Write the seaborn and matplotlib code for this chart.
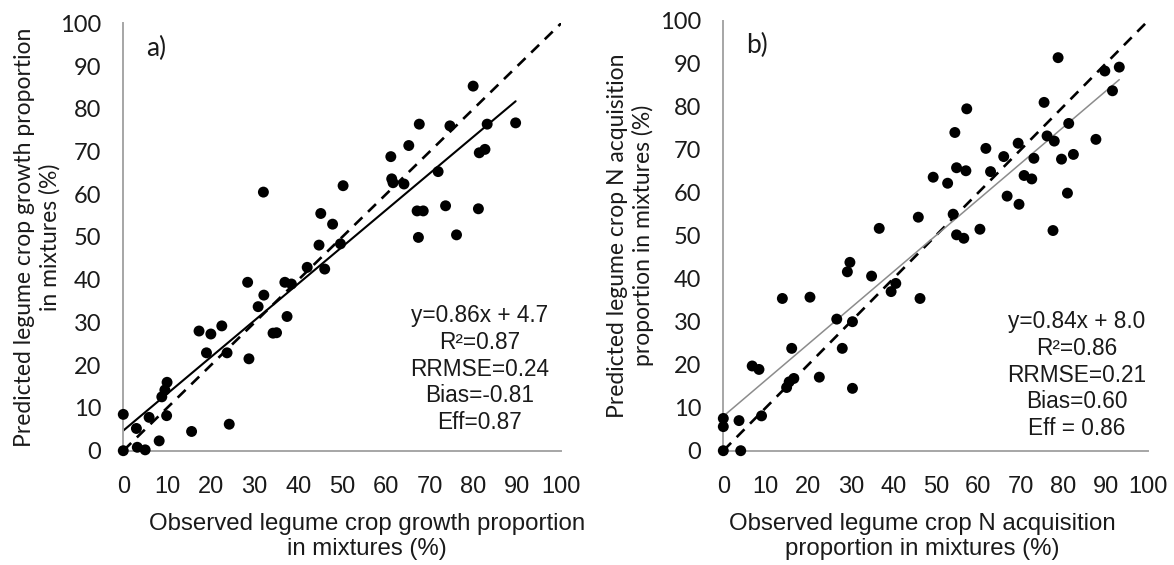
import matplotlib
matplotlib.use("Agg")
import matplotlib.pyplot as plt
import seaborn as sns
import numpy as np
import pandas as pd

# ---------------- data ----------------
a_obs = [32, 45.1, 47.8, 50.2, 61.1, 61.3, 61.6, 64.1, 65.2, 67.6, 67.1, 68.5, 67.4, 71.9,
         73.6, 74.6, 76.1, 79.9, 81.1, 81.3, 82.6, 83.1, 89.6,
         44.7, 49.6, 42.0, 46.0, 36.9, 38.4, 28.4, 32.1, 30.8, 37.4, 34.2, 35.0, 17.3, 20.0,
         22.5, 19.0, 23.7, 28.7, 10.0, 9.5, 8.8, 0, 5.9, 9.9, 3.0, 15.6, 24.2, 8.2, 0, 3.2, 5.0]
a_pred = [60.5, 55.5, 53.0, 62.0, 68.8, 63.6, 62.7, 62.4, 71.4, 76.4, 56.1, 56.1, 49.9, 65.3,
          57.3, 76.0, 50.5, 85.3, 56.6, 69.7, 70.5, 76.4, 76.7,
          48.1, 48.4, 42.9, 42.5, 39.4, 39.0, 39.4, 36.4, 33.7, 31.4, 27.5, 27.6, 28.0, 27.3,
          29.2, 22.9, 22.9, 21.5, 16.0, 14.2, 12.6, 8.5, 7.8, 8.2, 5.2, 4.5, 6.2, 2.3, 0, 0.8, 0.2]

b_obs = [36.7, 45.9, 49.4, 52.8, 54.5, 54.9, 57.1, 57.3, 54.1, 54.9, 56.6, 60.4, 61.8, 62.9,
         66.0, 66.8, 69.4, 69.6, 70.8, 72.6, 73.1, 75.5, 76.2, 77.9, 77.6, 78.8, 79.6, 81.0,
         81.3, 82.4, 87.7, 89.8, 91.6, 93.2,
         29.8, 29.2, 34.9, 40.6, 39.5, 46.3, 13.9, 20.4, 26.7, 30.4, 16.1, 28.0, 6.8, 8.4,
         16.6, 15.5, 14.9, 22.6, 30.4, 9.0, 0, 0, 3.7, 0, 4.1]
b_pred = [51.7, 54.3, 63.6, 62.2, 74.0, 65.8, 65.1, 79.5, 55.0, 50.2, 49.4, 51.5, 70.3, 64.9,
          68.4, 59.2, 71.5, 57.3, 64.0, 63.2, 68.0, 81.0, 73.2, 72.0, 51.2, 91.4, 67.8, 59.9,
          76.1, 68.9, 72.4, 88.3, 83.7, 89.2,
          43.8, 41.6, 40.6, 38.9, 37.0, 35.4, 35.4, 35.7, 30.6, 30.0, 23.8, 23.8, 19.7, 18.9,
          16.8, 16.0, 14.7, 17.1, 14.5, 8.1, 7.5, 5.6, 7.0, 0, 0]

a_slope, a_intercept = 0.86, 4.7
b_slope, b_intercept = 0.84, 8.0

ticks = list(range(0, 101, 10))
tick_labels = [str(t) for t in ticks]

a_stats = ["y=0.86x + 4.7", "R\u00b2=0.87", "RRMSE=0.24", "Bias=-0.81", "Eff=0.87"]
b_stats = ["y=0.84x + 8.0", "R\u00b2=0.86", "RRMSE=0.21", "Bias=0.60", "Eff = 0.86"]

a_xlabel = "Observed legume crop growth proportion\nin mixtures (%)"
a_ylabel = "Predicted legume crop growth proportion\nin mixtures (%)"
b_xlabel = "Observed legume crop N acquisition\nproportion in mixtures (%)"
b_ylabel = "Predicted legume crop N acquisition\nproportion in mixtures (%)"

# ---------------- style ----------------
sns.set_style("white")
plt.rcParams['font.family'] = ['Liberation Sans', 'DejaVu Sans']

ARIAL = ['Liberation Sans', 'DejaVu Sans']
CALI = ['Lato', 'DejaVu Sans']
TXT = '#1a1a1a'
SPINE = '#a6a6a6'

fig = plt.figure(figsize=(11.74, 5.65), dpi=100)
ax_a = fig.add_axes([0.105, 0.2023, 0.373, 0.7565])
ax_b = fig.add_axes([0.6161, 0.2023, 0.3619, 0.7611])


def draw(ax, obs, pred, slope, intercept, reg_color, reg_lw, stats, stat_xy,
         letter, letter_xy, xlabel, ylabel, xlab_x, ylab_x):
    df = pd.DataFrame({"obs": obs, "pred": pred})
    # 1:1 line
    ax.plot([0, 100], [0, 100], color='black', lw=1.9, ls=(0, (4.2, 3.0)), zorder=2)
    # regression line
    xr = np.array([0, max(obs)])
    ax.plot(xr, slope * xr + intercept, color=reg_color, lw=reg_lw, zorder=2)
    sns.scatterplot(data=df, x="obs", y="pred", ax=ax, color='black', s=62,
                    edgecolor='none', linewidth=0, zorder=3, clip_on=False)
    ax.set_xlim(0, 100)
    ax.set_ylim(0, 100)
    ax.set_xticks(ticks)
    ax.set_xticklabels(tick_labels)
    ax.set_yticks(ticks)
    ax.set_yticklabels(tick_labels)
    for s in ['top', 'right']:
        ax.spines[s].set_visible(False)
    for s in ['left', 'bottom']:
        ax.spines[s].set_color(SPINE)
        ax.spines[s].set_linewidth(1.4)
    ax.tick_params(axis='x', direction='out', length=6, width=1.2, color=SPINE,
                   labelsize=17, labelcolor=TXT, pad=12, labelfontfamily=ARIAL)
    ax.tick_params(axis='y', direction='out', length=6, width=1.2, color=SPINE,
                   labelsize=17, labelcolor=TXT, pad=10, labelfontfamily=CALI)
    ax.set_xlabel(xlabel, fontsize=17.3, color=TXT, family=ARIAL, linespacing=1.15)
    ax.xaxis.set_label_coords(xlab_x, -0.146)
    ax.xaxis.label.set_va('top')
    ax.set_ylabel(ylabel, fontsize=16.5, color=TXT, family=CALI, linespacing=1.22)
    ax.yaxis.set_label_coords(ylab_x, 0.5)
    ax.yaxis.label.set_va('center')
    ax.text(stat_xy[0], stat_xy[1], "\n".join(stats), ha='center', va='center',
            fontsize=16.3, color=TXT, family=ARIAL, linespacing=1.2)
    ax.text(letter_xy[0], letter_xy[1], letter, ha='center', va='center',
            fontsize=19, color=TXT, family=CALI)


draw(ax_a, a_obs, a_pred, a_slope, a_intercept, 'black', 1.5, a_stats, (81.4, 19.1),
     "a)", (7.5, 94.2), a_xlabel, a_ylabel, 0.557, -0.197)
draw(ax_b, b_obs, b_pred, b_slope, b_intercept, '#8c8c8c', 1.1, b_stats, (83.2, 17.6),
     "b)", (7.9, 94.3), b_xlabel, b_ylabel, 0.468, -0.218)

fig.savefig("out.png", dpi=100)
